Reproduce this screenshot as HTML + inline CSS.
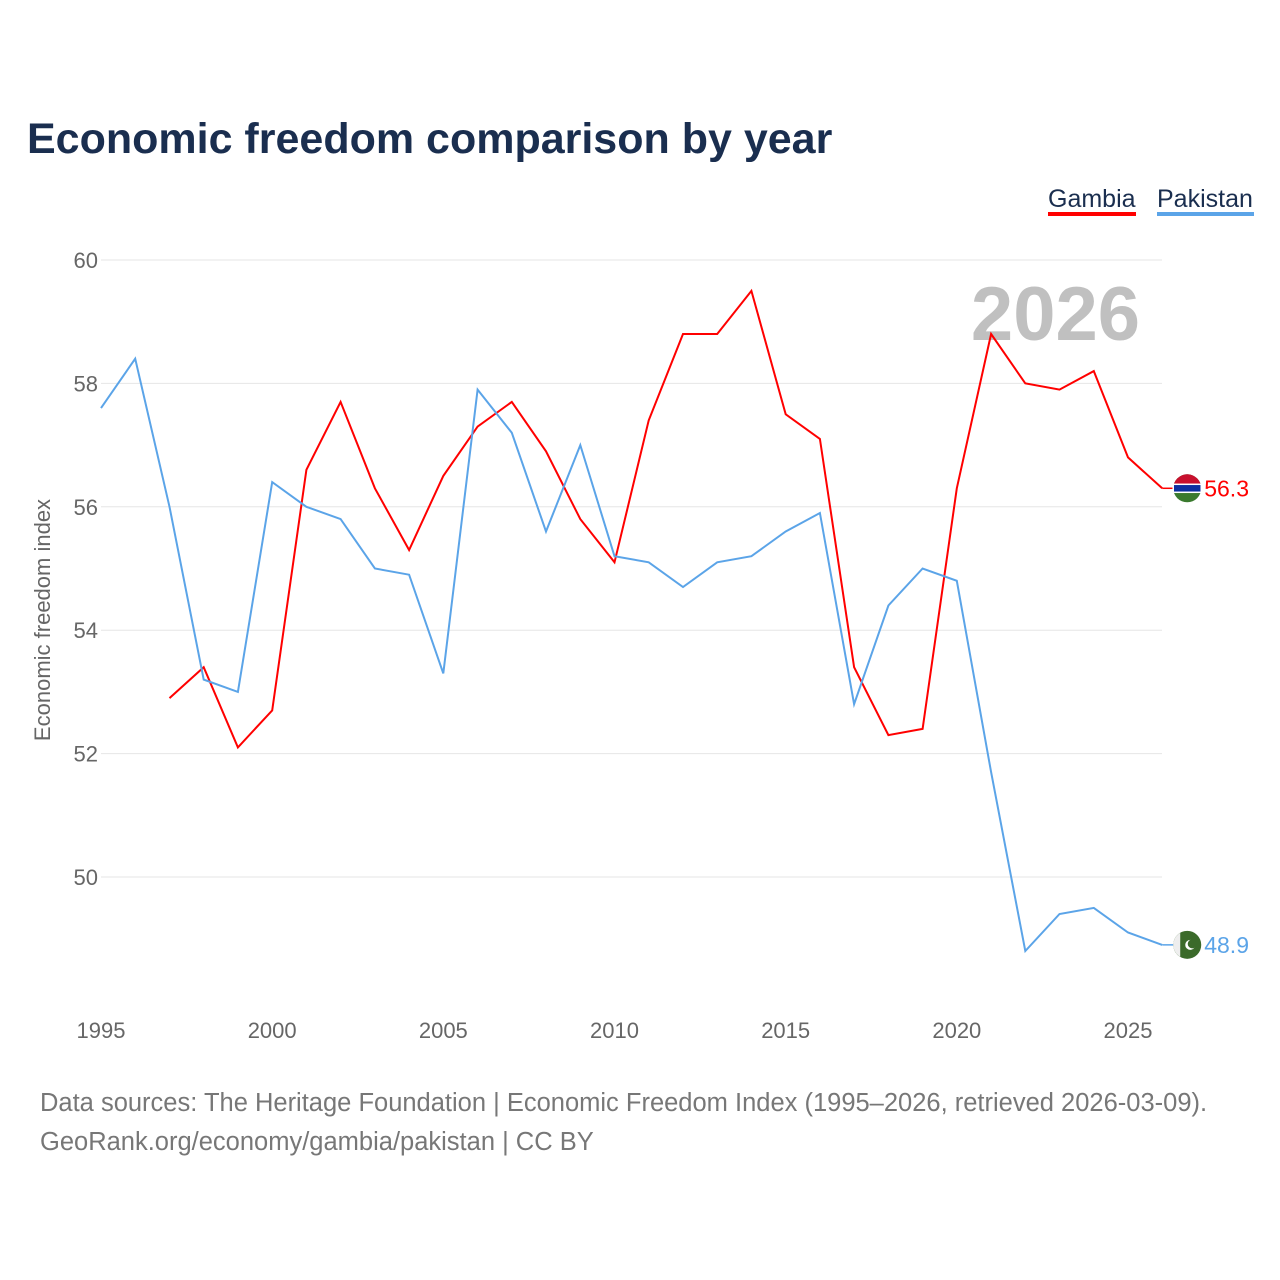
<!DOCTYPE html>
<html><head><meta charset="utf-8">
<style>
body{margin:0;background:#fff;font-family:"Liberation Sans",sans-serif;}
#wrap{position:relative;width:1280px;height:1280px;overflow:hidden;}
</style></head>
<body>
<div id="wrap">
<svg id="chart" width="1280" height="1280">
<text x="27" y="153" font-size="43" font-weight="bold" fill="#1a2e4f">Economic freedom comparison by year</text>
<g>
<text x="1048" y="207" font-size="25" fill="#1a2e4f">Gambia</text>
<rect x="1048" y="212" width="88" height="4" fill="#ff0000"/>
<text x="1157" y="207" font-size="25" fill="#1a2e4f">Pakistan</text>
<rect x="1157" y="212" width="97" height="4" fill="#5ba4e8"/>
</g>
<text x="1140" y="340" font-size="76" font-weight="bold" fill="#c0c0c0" text-anchor="end">2026</text>
<text transform="translate(50,620) rotate(-90)" font-size="22" fill="#666" text-anchor="middle">Economic freedom index</text>
<g id="grid"></g><g id="series"></g>
<text x="40" y="1111" font-size="25.5" fill="#777">Data sources: The Heritage Foundation | Economic Freedom Index (1995–2026, retrieved 2026-03-09).</text>
<text x="40" y="1150" font-size="25.5" fill="#777">GeoRank.org/economy/gambia/pakistan | CC BY</text>
</svg>
</div>
<script>
const years=[1995,1996,1997,1998,1999,2000,2001,2002,2003,2004,2005,2006,2007,2008,2009,2010,2011,2012,2013,2014,2015,2016,2017,2018,2019,2020,2021,2022,2023,2024,2025,2026];
const pakistan=[57.6,58.4,56.0,53.2,53.0,56.4,56.0,55.8,55.0,54.9,53.3,57.9,57.2,55.6,57.0,55.2,55.1,54.7,55.1,55.2,55.6,55.9,52.8,54.4,55.0,54.8,51.7,48.8,49.4,49.5,49.1,48.9];
const gambia=[null,null,52.9,53.4,52.1,52.7,56.6,57.7,56.3,55.3,56.5,57.3,57.7,56.9,55.8,55.1,57.4,58.8,58.8,59.5,57.5,57.1,53.4,52.3,52.4,56.3,58.8,58.0,57.9,58.2,56.8,56.3];
const yTicks=[50,52,54,56,58,60];
const xTicks=[1995,2000,2005,2010,2015,2020,2025];
const NS="http://www.w3.org/2000/svg";
const x=v=>101+(v-1995)*(1128-101)/30;
const y=v=>877-(v-50)*(877-260)/10;
function mk(tag,attrs,parent){const e=document.createElementNS(NS,tag);for(const k in attrs)e.setAttribute(k,attrs[k]);parent.appendChild(e);return e;}
const grid=document.getElementById('grid'),ser=document.getElementById('series');
yTicks.forEach(t=>{
 const l=mk('line',{x1:101,x2:1162,y1:y(t),y2:y(t),stroke:'#e6e6e6','stroke-width':1},grid);
 
 
 const tx=mk('text',{x:98,y:y(t)+8,'font-size':22,fill:'#666','text-anchor':'end'},grid);tx.textContent=t;
 
 
});
xTicks.forEach(t=>{
 const tx=mk('text',{x:x(t),y:1038,'font-size':22,fill:'#666','text-anchor':'middle'},grid);tx.textContent=t;
 
 
});
function draw(vals,color,name,flag){
 let d='';vals.forEach((v,i)=>{if(v==null)return;d+=(d?'L':'M')+x(years[i]).toFixed(1)+','+y(v).toFixed(1);});
 const p=mk('path',{d:d,fill:'none',stroke:color,'stroke-width':2},ser);
 
 
 const last=vals[vals.length-1],cx=x(2026)+25,cy=y(last);
 const g=mk('g',{},ser);
 
 
 mk('line',{x1:x(2026),x2:cx-14,y1:cy,y2:cy,stroke:color,'stroke-width':1.5},g);
 if(flag==='gm'){
  mk('circle',{cx:cx,cy:cy,r:14,fill:'#3a7a2e'},g);
  mk('path',{d:`M${cx-14},${cy} A14,14 0 0 1 ${cx+14},${cy} Z`,fill:'#c8102e'},g);
  mk('rect',{x:cx-14,y:cy-4,width:28,height:8,fill:'#0c2fa0',stroke:'#fff','stroke-width':1.5},g);
 }else{
  mk('circle',{cx:cx,cy:cy,r:14,fill:'#3b6a2a'},g);
  mk('path',{d:`M${cx-14},${cy} A14,14 0 0 1 ${cx-7},${cy-12} L${cx-7},${cy+12} A14,14 0 0 1 ${cx-14},${cy}Z`,fill:'#eee'},g);
  mk('circle',{cx:cx+3,cy:cy,r:5,fill:'#fff'},g);
  mk('circle',{cx:cx+5,cy:cy-1,r:4.5,fill:'#3b6a2a'},g);
 }
 const t=mk('text',{x:cx+17,y:cy+8,'font-size':23,fill:color},ser);t.textContent=last.toFixed(1);
 
 
}
draw(gambia,'#ff0000','gambia','gm');
draw(pakistan,'#5ba4e8','pakistan','pk');
</script>
</body></html>
